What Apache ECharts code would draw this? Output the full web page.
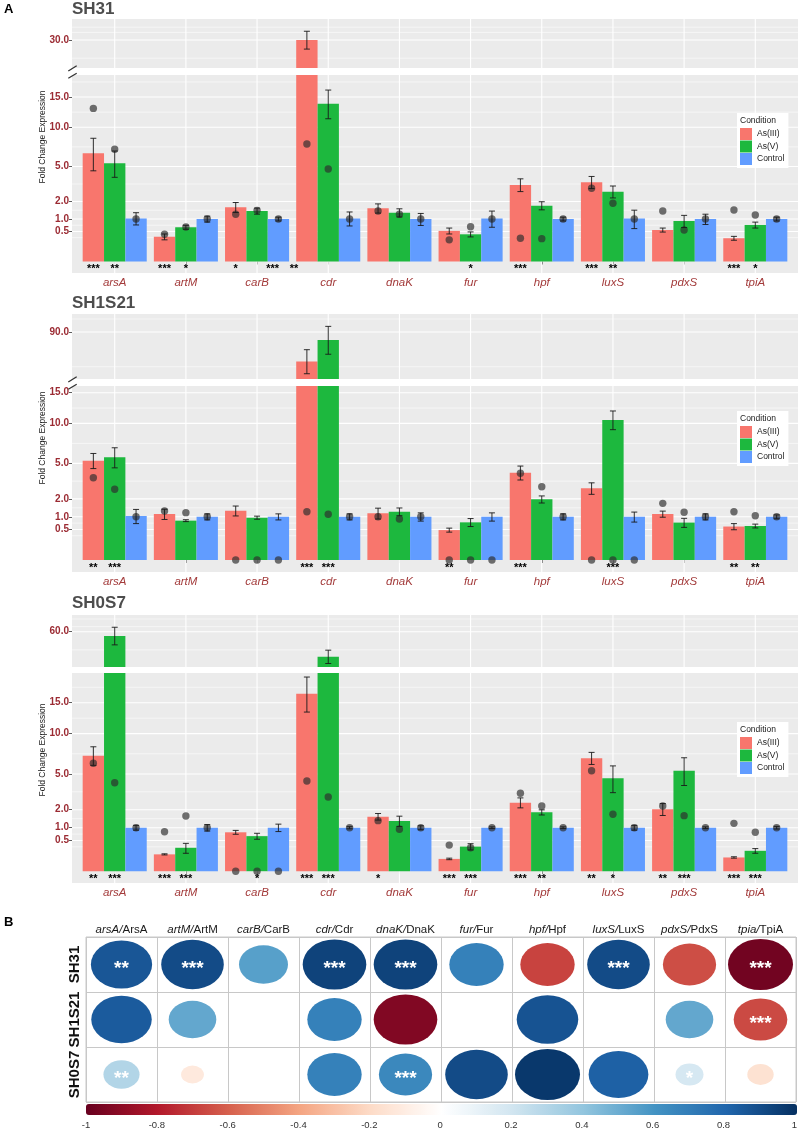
<!DOCTYPE html>
<html><head><meta charset="utf-8">
<script src="https://cdn.jsdelivr.net/npm/echarts@6/dist/echarts.min.js"></script>
<style>html,body{margin:0;padding:0;background:#fff}#c{width:800px;height:1130px}</style>
</head><body><div id="c"></div>
<script>
// ---------------- data ----------------
const genes = ['arsA','artM','carB','cdr','dnaK','fur','hpf','luxS','pdxS','tpiA'];
const conditions = ['As(III)','As(V)','Control'];
const yTicksLower = [0.5, 1, 2, 5, 10, 15];

// SH31
const sh31_mean_as3  = [6.49, 0.34, 1.63, 30.0, 1.57, 0.52, 3.25, 3.48, 0.55, 0.30];
const sh31_mean_as5  = [5.35, 0.65, 1.41, 13.8, 1.32, 0.41, 1.73, 2.70, 0.91, 0.74];
const sh31_mean_ctrl = [1.03, 1.00, 1.00, 1.03, 1.00, 1.03, 1.00, 1.03, 1.00, 1.00];
const sh31_se_as3  = [1.93, 0.08, 0.30, 2.3, 0.27, 0.10, 0.54, 0.53, 0.07, 0.05];
const sh31_se_as5  = [1.42, 0.076, 0.17, 2.5, 0.22, 0.075, 0.25, 0.46, 0.27, 0.12];
const sh31_se_ctrl = [0.29, 0.14, 0.09, 0.33, 0.28, 0.38, 0.09, 0.43, 0.24, 0.09];
const sh31_dot_as3  = [13.0, 0.41, 1.24, 7.66, 1.41, 0.26, 0.30, 2.97, 1.41, 1.47];
const sh31_dot_as5  = [6.98, 0.66, 1.45, 4.75, 1.24, 0.67, 0.29, 1.88, 0.55, 1.20];
const sh31_dot_ctrl = [1, 1, 1, 1, 1, 1, 1, 1, 1, 1];
const sh31_stars_as3 = ['***','***','*','','','','***','***','','***'];
const sh31_stars_as5 = ['**','*','','','','*','','**','','*'];
const sh31_stars_extra = [[3.22,'***'],[3.52,'**']];
const sh31_upTicks = [30];
const sh31_upMinor = [32.0, 33.4, 25.5];

// SH1S21
const sh1s21_mean_as3  = [5.28, 1.13, 1.30, 77.5, 1.17, 0.48, 4.08, 2.75, 1.13, 0.60];
const sh1s21_mean_as5  = [5.65, 0.83, 0.96, 86.5, 1.25, 0.76, 1.97, 10.5, 0.75, 0.62];
const sh1s21_mean_ctrl = [1.04, 1.00, 1.00, 1.00, 1.00, 1.00, 1.00, 1.00, 1.00, 1.00];
const sh1s21_se_as3  = [0.80, 0.25, 0.26, 4.9, 0.27, 0.064, 0.65, 0.44, 0.15, 0.11];
const sh1s21_se_as5  = [1.10, 0.04, 0.07, 6.0, 0.20, 0.16, 0.23, 1.40, 0.18, 0.07];
const sh1s21_se_ctrl = [0.33, 0.14, 0.14, 0.14, 0.19, 0.19, 0.14, 0.23, 0.14, 0.09];
const sh1s21_dot_as3  = [3.63, 1.29, 0, 1.25, 1.00, 0, 4.03, 0, 1.72, 1.25];
const sh1s21_dot_as5  = [2.68, 1.20, 0, 1.12, 0.90, 0, 2.88, 0, 1.22, 1.05];
const sh1s21_dot_ctrl = [1, 1, 0, 1, 1, 0, 1, 0, 1, 1];
const sh1s21_stars_as3 = ['**','','','***','','**','***','','','**'];
const sh1s21_stars_as5 = ['***','','','***','','','','***','','**'];
const sh1s21_stars_extra = [];
const sh1s21_upTicks = [90];
const sh1s21_upMinor = [95.8, 75.4];

// SH0S7
const sh0s7_mean_as3  = [7.05, 0.15, 0.80, 16.65, 1.57, 0.08, 2.48, 6.74, 2.03, 0.10];
const sh0s7_mean_as5  = [58.5, 0.29, 0.65, 51.4, 1.33, 0.32, 1.83, 4.56, 5.34, 0.22];
const sh0s7_mean_ctrl = [1, 1, 1, 1, 1, 1, 1, 1, 1, 1];
const sh0s7_se_as3  = [1.13, 0.01, 0.08, 3.27, 0.19, 0.01, 0.36, 0.72, 0.39, 0.01];
const sh0s7_se_as5  = [3.1, 0.12, 0.11, 2.2, 0.27, 0.08, 0.16, 1.30, 1.46, 0.05];
const sh0s7_se_ctrl = [0.11, 0.15, 0.17, 0.05, 0.09, 0.04, 0.04, 0.11, 0.04, 0.06];
const sh0s7_dot_as3  = [6.15, 0.82, 0, 4.30, 1.35, 0.36, 3.21, 5.34, 2.25, 1.21];
const sh0s7_dot_as5  = [4.14, 1.61, 0, 2.91, 0.93, 0.29, 2.25, 1.71, 1.63, 0.80];
const sh0s7_dot_ctrl = [1, 1, 0, 1, 1, 1, 1, 1, 1, 1];
const sh0s7_stars_as3 = ['**','***','','***','*','***','***','**','**','***'];
const sh0s7_stars_as5 = ['***','***','*','***','','***','**','*','***','***'];
const sh0s7_stars_extra = [];
const sh0s7_upTicks = [60];
const sh0s7_upMinor = [64.6, 61.8, 53.7];

// correlation panel (B)
const corrGeneLabels = ['arsA','artM','carB','cdr','dnaK','fur','hpf','luxS','pdxS','tpia'];
const corrProteins = ['ArsA','ArtM','CarB','Cdr','DnaK','Fur','Hpf','LuxS','PdxS','TpiA'];
const corrRows = ['SH31','SH1S21','SH0S7'];
const corr_SH31   = [0.86, 0.90, 0.55, 0.93, 0.93, 0.68, -0.68, 0.90, -0.65, -0.97];
const corr_SH1S21 = [0.84, 0.52, null, 0.68, -0.93, null, 0.87, null, 0.52, -0.66];
const corr_SH0S7  = [0.30, -0.12, null, 0.68, 0.65, 0.90, 0.97, 0.82, 0.18, -0.16];
const corrStars_SH31   = ['**','***','','***','***','','','***','','***'];
const corrStars_SH1S21 = ['','','','','','','','','','***'];
const corrStars_SH0S7  = ['**','','','','***','','','','*',''];
const colorbarTicksInterval = 0.2;

// ---------------- styling / layout ----------------
const FONT = '"Liberation Sans", Arial, Helvetica, sans-serif';
const condColors = ['#F8766D', '#1DB83E', '#619CFF'];
const condOffset = [-0.3, 0, 0.3];
const RdBu = ['#67001F','#B2182B','#D6604D','#F4A582','#FDDBC7','#FFFFFF','#D1E5F0','#92C5DE','#4393C3','#2166AC','#053061'];

const panels = [
  {title:'SH31', titleY:9, nameY:137, legendTop:113, brk:71.5,
   up:{top:19, h:49, min:4.818, max:5.972, ticks:sh31_upTicks, minor:sh31_upMinor},
   lo:{top:75, h:198, min:-0.271, max:4.392},
   means:[sh31_mean_as3, sh31_mean_as5, sh31_mean_ctrl], se:[sh31_se_as3, sh31_se_as5, sh31_se_ctrl],
   dots:[sh31_dot_as3, sh31_dot_as5, sh31_dot_ctrl], stars:[sh31_stars_as3, sh31_stars_as5], extra:sh31_stars_extra},
  {title:'SH1S21', titleY:303.5, nameY:438, legendTop:411, brk:382.5,
   up:{top:314, h:65, min:8.399, max:9.904, ticks:sh1s21_upTicks, minor:sh1s21_upMinor},
   lo:{top:386, h:186, min:-0.278, max:4.028},
   means:[sh1s21_mean_as3, sh1s21_mean_as5, sh1s21_mean_ctrl], se:[sh1s21_se_as3, sh1s21_se_as5, sh1s21_se_ctrl],
   dots:[sh1s21_dot_as3, sh1s21_dot_as5, sh1s21_dot_ctrl], stars:[sh1s21_stars_as3, sh1s21_stars_as5], extra:sh1s21_stars_extra},
  {title:'SH0S7', titleY:603.5, nameY:750, legendTop:722, brk:null,
   up:{top:615, h:52, min:6.934, max:8.130, ticks:sh0s7_upTicks, minor:sh0s7_upMinor},
   lo:{top:673, h:210, min:-0.271, max:4.556},
   means:[sh0s7_mean_as3, sh0s7_mean_as5, sh0s7_mean_ctrl], se:[sh0s7_se_as3, sh0s7_se_as5, sh0s7_se_ctrl],
   dots:[sh0s7_dot_as3, sh0s7_dot_as5, sh0s7_dot_ctrl], stars:[sh0s7_stars_as3, sh0s7_stars_as5], extra:sh0s7_stars_extra}
];

function sq(v){ return Math.sqrt(Math.max(v, 0)); }

const option = {
  backgroundColor:'#fff', animation:false, textStyle:{fontFamily:FONT},
  grid:[], xAxis:[], yAxis:[], series:[], legend:[], graphic:[]
};

const catVals = genes.map((_, i) => i + 1);

function minorLines(majors, lo, hi){
  const s = majors.map(Math.sqrt), out = [];
  for (let i = 0; i < s.length - 1; i++) out.push((s[i] + s[i+1]) / 2);
  out.push(s[0] - (s[1] - s[0]) / 2);
  out.push(s[s.length-1] + (s[s.length-1] - s[s.length-2]) / 2);
  return out.filter(v => v > lo && v < hi);
}

panels.forEach((p, pi) => {
  const subs = [{g:p.up, isUp:true}, {g:p.lo, isUp:false}];
  subs.forEach((sObj, si) => {
    const g = sObj.g, isUp = sObj.isUp, gi = pi * 2 + si;
    option.grid.push({left:72, width:726, top:g.top, height:g.h, show:true, backgroundColor:'#EBEBEB', borderWidth:0});
    option.xAxis.push({type:'value', gridIndex:gi, min:0.4, max:10.6, position:'bottom', show:!isUp,
      axisLine:{show:false}, splitLine:{show:false},
      axisTick:{show:true, length:3, lineStyle:{color:'#333', width:0.8}, customValues:catVals},
      axisLabel:{customValues:catVals, formatter:v => genes[Math.round(v) - 1], fontStyle:'italic', fontSize:11.5,
        color:'#A33B3B', margin:4, fontFamily:FONT}});
    const ticks = isUp ? g.ticks : yTicksLower;
    option.yAxis.push({type:'value', gridIndex:gi, min:g.min, max:g.max,
      axisLine:{show:false}, splitLine:{show:false},
      axisTick:{show:true, length:3, lineStyle:{color:'#333', width:0.8}, customValues:ticks.map(Math.sqrt)},
      axisLabel:{customValues:ticks.map(Math.sqrt), formatter:v => (v * v).toFixed(1), fontWeight:'bold', fontSize:10,
        color:'#9B2A32', margin:3, fontFamily:FONT}});
  });
});

// series
panels.forEach((p, pi) => {
  [p.up, p.lo].forEach((g, si) => {
    const gi = pi * 2 + si;
    const isUp = si === 0;
    const majors = (isUp ? g.ticks : yTicksLower).map(Math.sqrt);
    const minors = isUp ? g.minor.map(Math.sqrt) : minorLines(yTicksLower, g.min, g.max);
    const gl = [];
    minors.forEach(v => gl.push([0, v, 0]));
    majors.forEach(v => gl.push([0, v, 1]));
    catVals.forEach(v => gl.push([1, v, 1]));
    option.series.push({type:'custom', xAxisIndex:gi, yAxisIndex:gi, silent:true, clip:true, data:gl,
      renderItem:(params, api) => {
        const cs = params.coordSys, t = api.value(0), v = api.value(1), maj = api.value(2);
        const lw = maj ? 1.1 : 0.55;
        if (t === 0) {
          const y = api.coord([1, v])[1];
          return {type:'line', shape:{x1:cs.x, y1:y, x2:cs.x + cs.width, y2:y}, style:{stroke:'#fff', lineWidth:lw}};
        }
        const x = api.coord([v, 0])[0];
        return {type:'line', shape:{x1:x, y1:cs.y, x2:x, y2:cs.y + cs.height}, style:{stroke:'#fff', lineWidth:lw}};
      }});
    conditions.forEach((cname, c) => {
      const data = genes.map((_, i) => [i + 1 + condOffset[c], p.means[c][i], p.se[c][i], p.dots[c][i]]);
      option.series.push({type:'custom', name:cname, xAxisIndex:gi, yAxisIndex:gi, clip:true, silent:true,
        itemStyle:{color:condColors[c]}, data:data,
        renderItem:(params, api) => {
          const x = api.value(0), v = api.value(1), s = api.value(2), d = api.value(3);
          const a = api.coord([x - 0.15, 0]), b = api.coord([x + 0.15, sq(v)]);
          const eLo = api.coord([x, sq(v - s)]), eHi = api.coord([x, sq(v + s)]);
          const dp = api.coord([x, sq(d)]);
          const cx = eLo[0];
          return {type:'group', children:[
            {type:'rect', shape:{x:a[0], y:b[1], width:b[0] - a[0], height:a[1] - b[1]}, style:{fill:condColors[c]}},
            {type:'circle', shape:{cx:dp[0], cy:dp[1], r:3.7}, style:{fill:'rgba(45,45,45,0.68)'}},
            {type:'line', shape:{x1:cx, y1:eLo[1], x2:cx, y2:eHi[1]}, style:{stroke:'#1a1a1a', lineWidth:0.9}},
            {type:'line', shape:{x1:cx - 3, y1:eLo[1], x2:cx + 3, y2:eLo[1]}, style:{stroke:'#1a1a1a', lineWidth:0.9}},
            {type:'line', shape:{x1:cx - 3, y1:eHi[1], x2:cx + 3, y2:eHi[1]}, style:{stroke:'#1a1a1a', lineWidth:0.9}}
          ]};
        }});
    });
  });
  // significance stars under bars
  const starList = [];
  p.stars.forEach((arr, c) => arr.forEach((t, i) => { if (t) starList.push([i + 1 + condOffset[c], t]); }));
  p.extra.forEach(e => starList.push(e));
  option.series.push({type:'custom', xAxisIndex:pi * 2 + 1, yAxisIndex:pi * 2 + 1, clip:false, silent:true,
    data:starList.map(s => [s[0], -0.18]),
    renderItem:(params, api) => {
      const pt = api.coord([api.value(0), api.value(1)]);
      const txt = starList[params.dataIndex][1];
      return {type:'text', x:pt[0], y:pt[1], style:{text:txt, font:'bold 11px ' + FONT, fill:'#000',
        align:'center', verticalAlign:'middle', textAlign:'center', textVerticalAlign:'middle'}};
    }});

  option.legend.push({data:conditions, orient:'vertical', left:737, top:p.legendTop, padding:[15, 4, 3, 3],
    itemGap:0.5, itemWidth:12, itemHeight:12, icon:'rect', backgroundColor:'#fff', selectedMode:false,
    textStyle:{fontSize:8.5, color:'#1a1a1a', fontFamily:FONT}});

  option.graphic.push({type:'text', x:72, y:p.titleY, z:100, style:{text:p.title, font:'bold 17px ' + FONT, fill:'#4D4D4D',
    align:'left', verticalAlign:'middle', textAlign:'left', textVerticalAlign:'middle'}});
  option.graphic.push({type:'text', x:43, y:p.nameY, rotation:Math.PI / 2, z:100, style:{text:'Fold Change Expression',
    font:'8.5px ' + FONT, fill:'#1a1a1a', align:'center', verticalAlign:'middle', textAlign:'center', textVerticalAlign:'middle'}});
  option.graphic.push({type:'text', x:740, y:p.legendTop + 7.5, z:100, style:{text:'Condition', font:'8.5px ' + FONT,
    fill:'#1a1a1a', align:'left', verticalAlign:'middle', textAlign:'left', textVerticalAlign:'middle'}});
  if (p.brk !== null) {
    const c = p.brk;
    option.graphic.push({type:'line', z:100, shape:{x1:68.3, y1:c - 0.5, x2:76.7, y2:c - 5.8}, style:{stroke:'#333', lineWidth:1.3}});
    option.graphic.push({type:'line', z:100, shape:{x1:68.3, y1:c + 6.8, x2:76.7, y2:c + 1.8}, style:{stroke:'#333', lineWidth:1.3}});
  }
});

option.graphic.push({type:'text', x:4, y:9, z:100, style:{text:'A', font:'bold 13px ' + FONT, fill:'#000',
  align:'left', verticalAlign:'middle', textAlign:'left', textVerticalAlign:'middle'}});
option.graphic.push({type:'text', x:4, y:922, z:100, style:{text:'B', font:'bold 13px ' + FONT, fill:'#000',
  align:'left', verticalAlign:'middle', textAlign:'left', textVerticalAlign:'middle'}});

// correlation grid
option.grid.push({left:86, top:937, width:710, height:165, show:true, borderColor:'#C8C8C8', borderWidth:1, backgroundColor:'#fff'});
option.xAxis.push({type:'category', gridIndex:6, data:genes, position:'top', axisLine:{show:false}, axisTick:{show:false},
  splitLine:{show:true, interval:0, lineStyle:{color:'#C8C8C8', width:1}},
  axisLabel:{interval:0, margin:1, formatter:(v, i) => '{i|' + corrGeneLabels[i] + '/}{n|' + corrProteins[i] + '}',
    rich:{i:{fontStyle:'italic', fontSize:11.5, color:'#1a1a1a', fontFamily:FONT}, n:{fontSize:11.5, color:'#1a1a1a', fontFamily:FONT}}}});
option.yAxis.push({type:'category', gridIndex:6, data:corrRows, inverse:true, axisLine:{show:false}, axisTick:{show:false},
  splitLine:{show:true, interval:0, lineStyle:{color:'#C8C8C8', width:1}},
  axisLabel:{interval:0, rotate:90, margin:4, fontWeight:'bold', fontSize:15, color:'#111', fontFamily:FONT}});

const corrAll = [corr_SH31, corr_SH1S21, corr_SH0S7];
const corrStarsAll = [corrStars_SH31, corrStars_SH1S21, corrStars_SH0S7];
const corrData = [];
corrAll.forEach((row, ri) => row.forEach((v, ci) => {
  if (v !== null) corrData.push({value:[ci, ri, v], name:corrStarsAll[ri][ci]});
}));
const corrSeriesIndex = option.series.length;
option.series.push({type:'scatter', xAxisIndex:6, yAxisIndex:6, symbol:'circle', silent:true, data:corrData,
  itemStyle:{opacity:1},
  symbolSize:val => { const a = Math.sqrt(Math.abs(val[2])); return [66 * a, 52 * a]; },
  label:{show:true, position:'inside', formatter:'{b}', color:'#fff', fontSize:19, fontWeight:'bold', offset:[0, 4.5], fontFamily:FONT}});

// colorbar axis
option.grid.push({left:86, top:1104, width:711, height:11, show:false});
option.xAxis.push({type:'value', gridIndex:7, min:-1, max:1, interval:colorbarTicksInterval,
  axisLine:{show:false}, axisTick:{show:false}, splitLine:{show:false},
  axisLabel:{fontSize:9.5, color:'#333', margin:5, fontFamily:FONT}});
option.yAxis.push({type:'value', gridIndex:7, show:false, min:0, max:1});
option.series.push({type:'scatter', xAxisIndex:7, yAxisIndex:7, data:[], silent:true});

option.visualMap = {type:'continuous', min:-1, max:1, dimension:2, seriesIndex:corrSeriesIndex, orient:'horizontal',
  left:86, top:1104, itemWidth:11, itemHeight:711, calculable:false, padding:0, hoverLink:false,
  inRange:{color:RdBu, opacity:1}, textStyle:{fontSize:0}};

const chart = echarts.init(document.getElementById('c'), null, {renderer:'canvas'});
chart.setOption(option);
</script></body></html>
